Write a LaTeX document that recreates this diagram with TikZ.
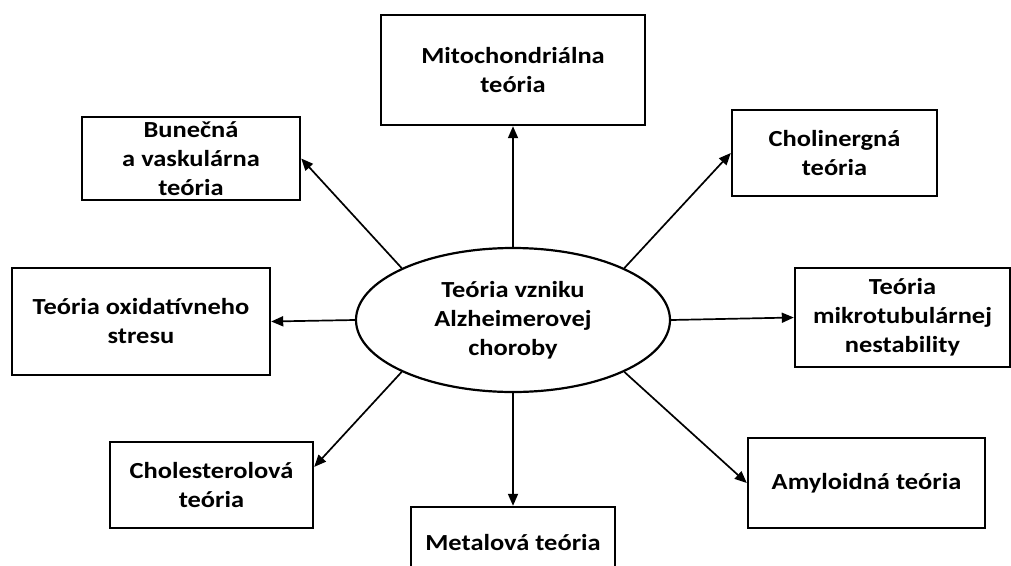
\documentclass[tikz,border=0pt]{standalone}
\usepackage{fontspec}
\setmainfont{Carlito}[FakeStretch=1.15]
\usepackage{tikz}
\usetikzlibrary{arrows.meta, positioning, shapes.geometric}

\begin{document}
\begin{tikzpicture}[
  x=1pt, y=-1pt,
  box/.style={rectangle, draw=black, line width=2.4pt, fill=white, inner sep=1pt,
              align=center, font=\bfseries\fontsize{23}{29}\selectfont},
  core/.style={ellipse, draw=black, line width=2.2pt, inner sep=0pt,
               minimum width=314pt, minimum height=144pt,
               align=center, font=\bfseries\fontsize{23}{29}\selectfont},
  arr/.style={-{Triangle[length=12pt, width=10pt]}, line width=1.7pt, color=black}
]
  \useasboundingbox (0,0) rectangle (1011,565);

  \node[core] (alz) at (513,320) {Teória vzniku\\Alzheimerovej\\choroby};

  \node[box, minimum width=264pt, minimum height=110pt] (mito)   at (513,70)    {Mitochondriálna\\teória};
  \node[box, minimum width=218pt, minimum height=83pt]  (bunec)  at (191,158.5) {Bunečná\\a vaskulárna\\teória};
  \node[box, minimum width=205pt, minimum height=86pt]  (cholin) at (834.5,153) {Cholinergná\\teória};
  \node[box, minimum width=258pt, minimum height=107pt] (oxid)   at (141,321.5) {Teória oxidatívneho\\stresu};
  \node[box, minimum width=215pt, minimum height=99pt]  (mikro)  at (902.5,317.5) {Teória\\mikrotubulárnej\\nestability};
  \node[box, minimum width=203pt, minimum height=86pt]  (chol)   at (211.5,485) {Cholesterolová\\teória};
  \node[box, minimum width=204pt, minimum height=72pt]  (metal)  at (513,543)   {Metalová teória};
  \node[box, minimum width=237pt, minimum height=90pt]  (amyl)   at (866.5,483) {Amyloidná teória};

  \draw[arr] (alz.north) -- (mito.south);
  \draw[arr] (alz.155) -- (bunec.east);
  \draw[arr] (alz.25) -- (cholin.west);
  \draw[arr] (alz.west) -- (oxid.east);
  \draw[arr] (alz.east) -- (mikro.west);
  \draw[arr] (alz.205) -- (chol.10);
  \draw[arr] (alz.south) -- (metal.north);
  \draw[arr] (alz.335) -- (amyl.west);
\end{tikzpicture}
\end{document}
